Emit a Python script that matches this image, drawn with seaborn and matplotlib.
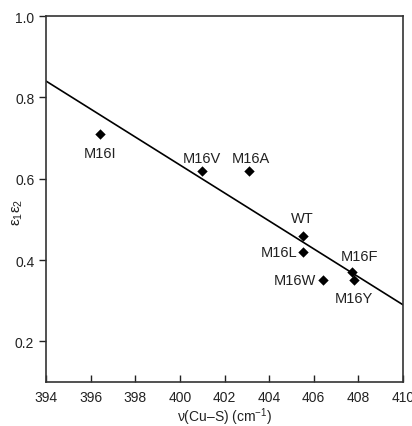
import matplotlib
matplotlib.use("Agg")
import matplotlib.pyplot as plt
import seaborn as sns
import pandas as pd

labels = ["M16I", "M16V", "M16A", "WT", "M16L", "M16W", "M16F", "M16Y"]
freq = [396.4, 401.0, 403.1, 405.5, 405.5, 406.4, 407.7, 407.8]
eps = [0.71, 0.62, 0.62, 0.46, 0.42, 0.35, 0.37, 0.35]
fit_x = [394, 410]
fit_y = [0.84, 0.29]
x_ticks = [394, 396, 398, 400, 402, 404, 406, 408, 410]
y_ticks = [0.2, 0.4, 0.6, 0.8, 1.0]

sns.set_style("ticks")
plt.rcParams['font.family'] = ['Liberation Sans', 'DejaVu Sans']
plt.rcParams['mathtext.fontset'] = 'custom'
plt.rcParams['mathtext.rm'] = 'Liberation Sans'
plt.rcParams['mathtext.it'] = 'Liberation Sans'

df = pd.DataFrame({"label": labels, "freq": freq, "eps": eps})

fig = plt.figure(figsize=(4.12, 4.27), dpi=100)
ax = fig.add_axes([0.112, 0.103, 0.866, 0.857])

sns.lineplot(x=fit_x, y=fit_y, ax=ax, color="black", lw=1.2)
sns.scatterplot(data=df, x="freq", y="eps", ax=ax, marker="D", color="black",
                s=28, edgecolor="black", linewidth=0, zorder=3)

offsets = {
    "M16I": (0, -9, "center", "top"),
    "M16V": (0, 4, "center", "bottom"),
    "M16A": (1, 4, "center", "bottom"),
    "WT": (0, 8, "center", "bottom"),
    "M16L": (-4, 0, "right", "center"),
    "M16W": (-5, 0, "right", "center"),
    "M16F": (6, 7, "center", "bottom"),
    "M16Y": (0, -8, "center", "top"),
}
for lab, x, y in zip(labels, freq, eps):
    dx, dy, ha, va = offsets[lab]
    ax.annotate(lab, (x, y), xytext=(dx, dy), textcoords="offset points",
                ha=ha, va=va, fontsize=10.5, color="#222222")

ax.set_xlim(394, 410)
ax.set_ylim(0.1, 1.0)
ax.set_xticks(x_ticks)
ax.set_yticks(y_ticks)
ax.set_yticklabels([f"{v:.1f}" for v in y_ticks])
ax.tick_params(axis="x", direction="in", length=5, width=1, labelsize=10, pad=6, colors="#222222")
ax.tick_params(axis="y", direction="out", length=5, width=1, labelsize=10, colors="#222222")
for sp in ax.spines.values():
    sp.set_visible(True)
    sp.set_linewidth(1.2)
    sp.set_color("#333333")

ax.set_xlabel(r"$\nu$(Cu–S) (cm$^{-1}$)", fontsize=10, labelpad=1, color="#222222")
ax.set_ylabel(r"$\varepsilon_1\varepsilon_2$", fontsize=11, color="#222222")
ax.yaxis.set_label_coords(-0.058, 0.467)

fig.savefig("out.png", dpi=100)
